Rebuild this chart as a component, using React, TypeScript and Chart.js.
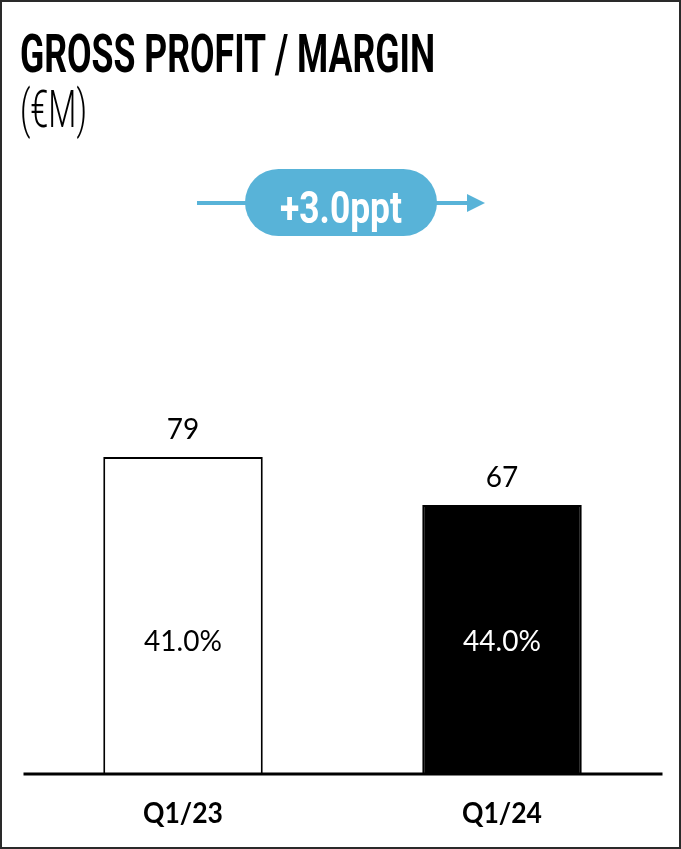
import React, { useEffect, useRef } from "react";
import { Chart, registerables } from "chart.js";

Chart.register(...registerables);

const categories = ["Q1/23", "Q1/24"];
const grossProfit = [79, 67];
const marginLabels = ["41.0%", "44.0%"];
const barColors = ["#ffffff", "#000000"];
const marginTextColors = ["#000000", "#ffffff"];
const titleText = "GROSS PROFIT / MARGIN";
const unitText = "(€M)";
const deltaText = "+3.0ppt";

const W = 681;
const H = 849;
const PILL_BLUE = "#58b3d8";

function drawFit(
  ctx: CanvasRenderingContext2D,
  text: string,
  x: number,
  y: number,
  font: string,
  targetWidth: number,
  color: string,
  align: "left" | "center" = "left"
) {
  ctx.save();
  ctx.font = font;
  ctx.fillStyle = color;
  ctx.textBaseline = "alphabetic";
  ctx.textAlign = "left";
  const w = ctx.measureText(text).width;
  const s = targetWidth / w;
  const startX = align === "center" ? x - targetWidth / 2 : x;
  ctx.translate(startX, y);
  ctx.scale(s, 1);
  ctx.fillText(text, 0, 0);
  ctx.restore();
}

const decorPlugin = {
  id: "decor",
  beforeDraw(chart: any) {
    const ctx = chart.ctx as CanvasRenderingContext2D;
    ctx.save();
    ctx.fillStyle = "#ffffff";
    ctx.fillRect(0, 0, W, H);
    ctx.restore();
  },
  afterDatasetsDraw(chart: any) {
    const ctx = chart.ctx as CanvasRenderingContext2D;
    const xs = chart.scales.x;
    const ys = chart.scales.y;
    const area = chart.chartArea;

    // baseline
    ctx.save();
    ctx.strokeStyle = "#000";
    ctx.lineWidth = 3;
    ctx.beginPath();
    ctx.moveTo(area.left, area.bottom + 1);
    ctx.lineTo(area.right + 1, area.bottom + 1);
    ctx.stroke();
    ctx.restore();

    // labels
    ctx.save();
    grossProfit.forEach((v, i) => {
      const cx = xs.getPixelForValue(i);
      const top = ys.getPixelForValue(v);
      ctx.font = "400 28px Lato";
      ctx.textAlign = "center";
      ctx.textBaseline = "alphabetic";
      ctx.fillStyle = "#000";
      ctx.fillText(String(v), cx, top - 18);
      ctx.fillStyle = marginTextColors[i];
      ctx.fillText(marginLabels[i], cx, ys.getPixelForValue(30.5));
      drawFit(ctx, categories[i], cx, area.bottom + 50, "700 29px Lato", 80, "#000", "center");
    });
    ctx.restore();

    // title
    drawFit(ctx, titleText, 20, 72, "700 53px Roboto", 415, "#000");
    drawFit(ctx, unitText, 20, 127, "300 52px Roboto", 67, "#000");

    // pill + arrow
    ctx.save();
    ctx.strokeStyle = PILL_BLUE;
    ctx.fillStyle = PILL_BLUE;
    ctx.lineWidth = 4;
    ctx.beginPath();
    ctx.moveTo(197, 203);
    ctx.lineTo(470, 203);
    ctx.stroke();
    ctx.beginPath();
    ctx.moveTo(467, 194);
    ctx.lineTo(485, 203);
    ctx.lineTo(467, 212);
    ctx.closePath();
    ctx.fill();
    const px = 245, py = 169, pw = 192, ph = 67, r = ph / 2;
    ctx.beginPath();
    ctx.moveTo(px + r, py);
    ctx.lineTo(px + pw - r, py);
    ctx.arc(px + pw - r, py + r, r, -Math.PI / 2, Math.PI / 2);
    ctx.lineTo(px + r, py + ph);
    ctx.arc(px + r, py + r, r, Math.PI / 2, (3 * Math.PI) / 2);
    ctx.closePath();
    ctx.fill();
    ctx.restore();
    drawFit(ctx, deltaText, 341, 223, "700 44px Roboto", 122, "#ffffff", "center");

    // outer border
    ctx.save();
    ctx.strokeStyle = "#2a2a2a";
    ctx.lineWidth = 2;
    ctx.strokeRect(1, 1, W - 2, H - 2);
    ctx.restore();
  },
};

export default function App() {
  const ref = useRef<HTMLCanvasElement>(null);
  useEffect(() => {
    if (!ref.current) return;
    const chart = new Chart(ref.current, {
      type: "bar",
      data: {
        labels: categories,
        datasets: [
          {
            data: grossProfit,
            backgroundColor: barColors,
            borderColor: "#000000",
            borderWidth: 2,
            borderSkipped: "start",
            categoryPercentage: 1,
            barPercentage: 0.5,
          },
        ],
      },
      options: {
        responsive: false,
        animation: false,
        layout: { padding: { left: 23.5, right: 19.5, top: 373, bottom: 76 } },
        plugins: { legend: { display: false }, tooltip: { enabled: false }, title: { display: false } },
        scales: {
          x: { display: false, offset: true },
          y: { display: false, min: 0, max: 100 },
        },
      },
      plugins: [decorPlugin],
    });
    return () => chart.destroy();
  }, []);
  return (
    <div style={{ position: "absolute", left: 0, top: 0, width: W, height: H }}>
      <canvas ref={ref} width={W} height={H} style={{ display: "block" }} />
    </div>
  );
}
